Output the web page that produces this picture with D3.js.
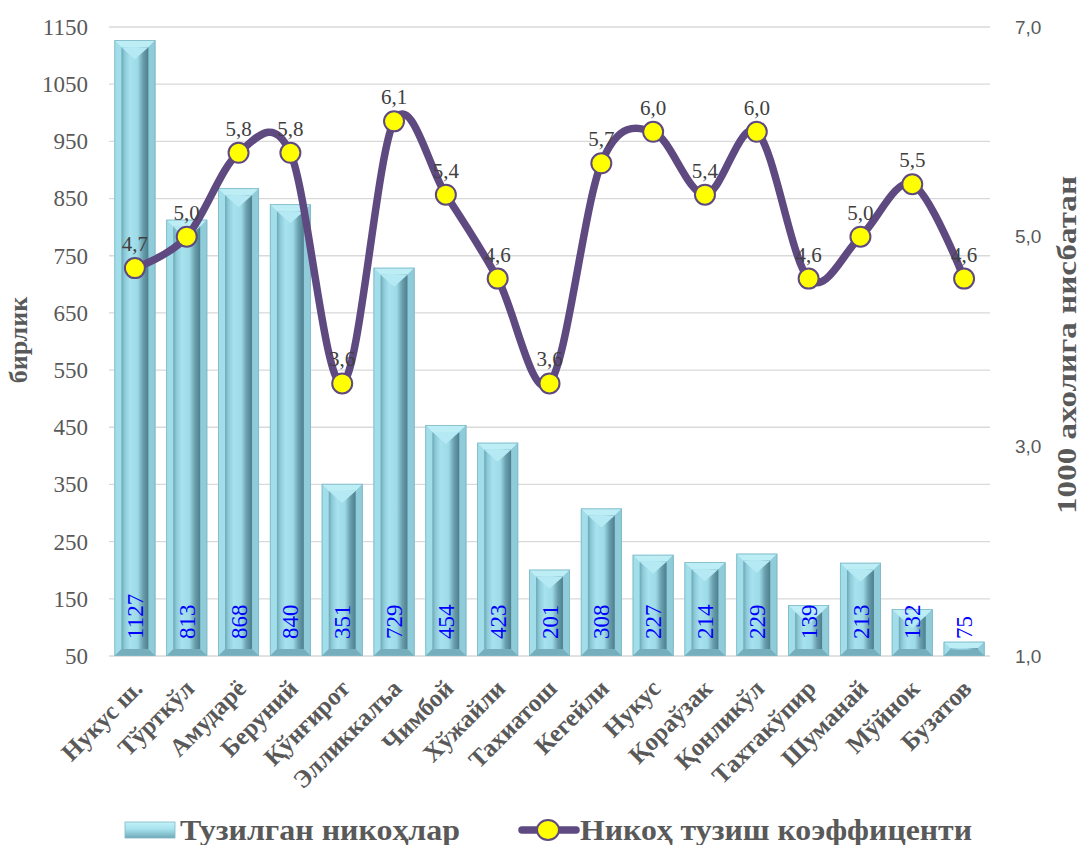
<!DOCTYPE html>
<html>
<head>
<meta charset="utf-8">
<script src="https://cdn.jsdelivr.net/npm/d3@7"></script>
<style>
  html, body { margin: 0; padding: 0; background: #ffffff; }
  svg { display: block; }
</style>
</head>
<body>
<div id="chart"></div>
<script>
const categories = ["Нукус ш.", "Тўрткўл", "Амударё", "Беруний", "Қўнғирот", "Элликкалъа", "Чимбой", "Хўжайли", "Тахиатош", "Кегейли", "Нукус", "Қораўзак", "Қонликўл", "Тахтакўпир", "Шуманай", "Мўйнок", "Бузатов"];
const marriages = [1127, 813, 868, 840, 351, 729, 454, 423, 201, 308, 227, 214, 229, 139, 213, 132, 75];
const rate = [4.7, 5.0, 5.8, 5.8, 3.6, 6.1, 5.4, 4.6, 3.6, 5.7, 6.0, 5.4, 6.0, 4.6, 5.0, 5.5, 4.6];
const leftTicks = [50, 150, 250, 350, 450, 550, 650, 750, 850, 950, 1050, 1150];
const rightTicks = [1, 3, 5, 7];
const seriesNames = ["Тузилган никоҳлар", "Никоҳ тузиш коэффиценти"];
const leftTitle = "бирлик";
const rightTitle = "1000 ахолига нисбатан";

const W = 1084, H = 845;
const plot = { left: 109, right: 990, top: 27, bottom: 656 };
const gray = "#595959";
const purple = "#5E4A80";
const serif = "'Liberation Serif','Times New Roman',serif";
const sans = "'Liberation Sans',Arial,sans-serif";

const svg = d3.select("#chart").append("svg").attr("width", W).attr("height", H);
svg.append("rect").attr("width", W).attr("height", H).attr("fill", "#fff");

const defs = svg.append("defs");
function grad(id, stops, vertical) {
  const g = defs.append("linearGradient").attr("id", id)
    .attr("x1", "0").attr("y1", "0").attr("x2", vertical ? "0" : "1").attr("y2", vertical ? "1" : "0");
  stops.forEach(s => g.append("stop").attr("offset", s[0]).attr("stop-color", s[1]));
}
grad("face", [["0%", "#6DA6B4"], ["12%", "#8DCAD8"], ["32%", "#A7E2EE"], ["60%", "#9DDAE7"], ["80%", "#6B9FAD"], ["100%", "#4C7F8E"]]);
grad("outer", [["0%", "#A4E0EC"], ["50%", "#A9E4F0"], ["100%", "#8CC9D7"]]);
grad("legendSw", [["0%", "#C4F1F8"], ["45%", "#A6E2EE"], ["100%", "#6FA9B8"]], true);

const x = d3.scaleBand().domain(categories).range([plot.left, plot.right]).paddingInner(0.21).paddingOuter(0.105);
const yL = d3.scaleLinear().domain([50, 1150]).range([plot.bottom, plot.top]);
const yR = d3.scaleLinear().domain([1, 7]).range([plot.bottom, plot.top]);

// gridlines
svg.append("g").selectAll("line").data(leftTicks).join("line")
  .attr("x1", plot.left).attr("x2", plot.right)
  .attr("y1", d => yL(d)).attr("y2", d => yL(d))
  .attr("stroke", "#D9D9D9").attr("stroke-width", 1.3);

// left axis
const axL = svg.append("g").attr("transform", `translate(${plot.left},0)`)
  .call(d3.axisLeft(yL).tickValues(leftTicks).tickSize(0).tickPadding(21).tickFormat(d3.format("d")));
axL.select(".domain").remove();
axL.selectAll("text").attr("font-family", serif).attr("font-size", 23).attr("fill", gray);

// right axis
const axR = svg.append("g").attr("transform", `translate(${plot.right},0)`)
  .call(d3.axisRight(yR).tickValues(rightTicks).tickSize(0).tickPadding(25).tickFormat(d => d.toFixed(1).replace(".", ",")));
axR.select(".domain").remove();
axR.selectAll("text").attr("font-family", sans).attr("font-size", 19).attr("fill", gray);

// bars
const bars = svg.append("g").selectAll("g").data(categories).join("g");
bars.each(function(c, i) {
  const g = d3.select(this);
  const x0 = x(c), x1 = x0 + x.bandwidth();
  const top = yL(marriages[i]), bot = yL(50);
  const h = bot - top;
  const b = Math.min(7, h / 2 - 0.5);
  g.append("rect").attr("x", x0).attr("y", top).attr("width", x1 - x0).attr("height", h).attr("fill", "url(#outer)");
  g.append("polygon").attr("points", [[x0, top], [x1, top], [x1 - b, top + b], [x0 + b, top + b]].join(" ")).attr("fill", "#BDEEF6");
  g.append("polygon").attr("points", [[x0, top], [x0 + b, top + b], [x0 + b, bot - b], [x0, bot]].join(" ")).attr("fill", "#A2DEEA");
  g.append("polygon").attr("points", [[x1, top], [x1 - b, top + b], [x1 - b, bot - b], [x1, bot]].join(" ")).attr("fill", "#8FCBD9");
  g.append("polygon").attr("points", [[x0, bot], [x0 + b, bot - b], [x1 - b, bot - b], [x1, bot]].join(" ")).attr("fill", "#76AEBC");
  g.append("rect").attr("x", x0 + b).attr("y", top + b).attr("width", x1 - x0 - 2 * b).attr("height", Math.max(0, h - 2 * b)).attr("fill", "url(#face)");
  if (h > 30) {
    const cx = (x0 + x1) / 2;
    g.append("polygon").attr("points", [[x0 + b, top + b], [x1 - b, top + b], [cx, top + b + 12]].join(" ")).attr("fill", "#B5E9F3");
  }
  g.append("rect").attr("x", x0 + 0.4).attr("y", top + 0.4).attr("width", x1 - x0 - 0.8).attr("height", h - 0.8)
    .attr("fill", "none").attr("stroke", "#7FB7C5").attr("stroke-width", 0.8);
});

// bar value labels
svg.append("g").selectAll("text").data(categories).join("text")
  .attr("transform", (c) => `translate(${x(c) + x.bandwidth() / 2},639) rotate(-90)`)
  .attr("dy", "0.35em")
  .attr("font-family", serif).attr("font-size", 23).attr("fill", "#0000FF")
  .text((c, i) => marriages[i]);

// line
const cxOf = (i) => x(categories[i]) + x.bandwidth() / 2;
const line = d3.line().x((d, i) => cxOf(i)).y(d => yR(d)).curve(d3.curveCardinal.tension(0));
svg.append("path").datum(rate).attr("d", line)
  .attr("fill", "none").attr("stroke", purple).attr("stroke-width", 7.5).attr("stroke-linejoin", "round");

svg.append("g").selectAll("circle").data(rate).join("circle")
  .attr("cx", (d, i) => cxOf(i)).attr("cy", d => yR(d)).attr("r", 10)
  .attr("fill", "#FFFF00").attr("stroke", purple).attr("stroke-width", 2);

svg.append("g").selectAll("text").data(rate).join("text")
  .attr("x", (d, i) => cxOf(i)).attr("y", d => yR(d) - 17)
  .attr("text-anchor", "middle")
  .attr("font-family", serif).attr("font-size", 21).attr("fill", "#404040")
  .text(d => d.toFixed(1).replace(".", ","));

// category labels
svg.append("g").selectAll("text").data(categories).join("text")
  .attr("transform", c => `translate(${x(c) + x.bandwidth() / 2 + 9},690) rotate(-45)`)
  .attr("text-anchor", "end")
  .attr("font-family", serif).attr("font-weight", "bold").attr("font-size", 25).attr("fill", gray)
  .text(c => c);

// axis titles
svg.append("text")
  .attr("transform", `translate(27,340) rotate(-90)`)
  .attr("text-anchor", "middle")
  .attr("font-family", serif).attr("font-weight", "bold").attr("font-size", 26).attr("fill", gray)
  .text(leftTitle);
svg.append("text")
  .attr("transform", `translate(1076,345) rotate(-90)`)
  .attr("text-anchor", "middle")
  .attr("font-family", serif).attr("font-weight", "bold").attr("font-size", 28).attr("fill", gray)
  .attr("textLength", 338).attr("lengthAdjust", "spacingAndGlyphs")
  .text(rightTitle);

// legend
const lg = svg.append("g");
lg.append("rect").attr("x", 125).attr("y", 822).attr("width", 50).attr("height", 16)
  .attr("fill", "url(#legendSw)").attr("stroke", "#7FB7C5").attr("stroke-width", 0.8);
lg.append("text").attr("x", 180).attr("y", 840)
  .attr("font-family", serif).attr("font-weight", "bold").attr("font-size", 30).attr("fill", gray)
  .attr("textLength", 280).attr("lengthAdjust", "spacingAndGlyphs")
  .text(seriesNames[0]);
lg.append("line").attr("x1", 522).attr("x2", 576).attr("y1", 830).attr("y2", 830)
  .attr("stroke", purple).attr("stroke-width", 7.5).attr("stroke-linecap", "round");
lg.append("ellipse").attr("cx", 548).attr("cy", 830).attr("rx", 11).attr("ry", 10)
  .attr("fill", "#FFFF00").attr("stroke", purple).attr("stroke-width", 2);
lg.append("text").attr("x", 580).attr("y", 840)
  .attr("font-family", serif).attr("font-weight", "bold").attr("font-size", 30).attr("fill", gray)
  .attr("textLength", 392).attr("lengthAdjust", "spacingAndGlyphs")
  .text(seriesNames[1]);
</script>
</body>
</html>
